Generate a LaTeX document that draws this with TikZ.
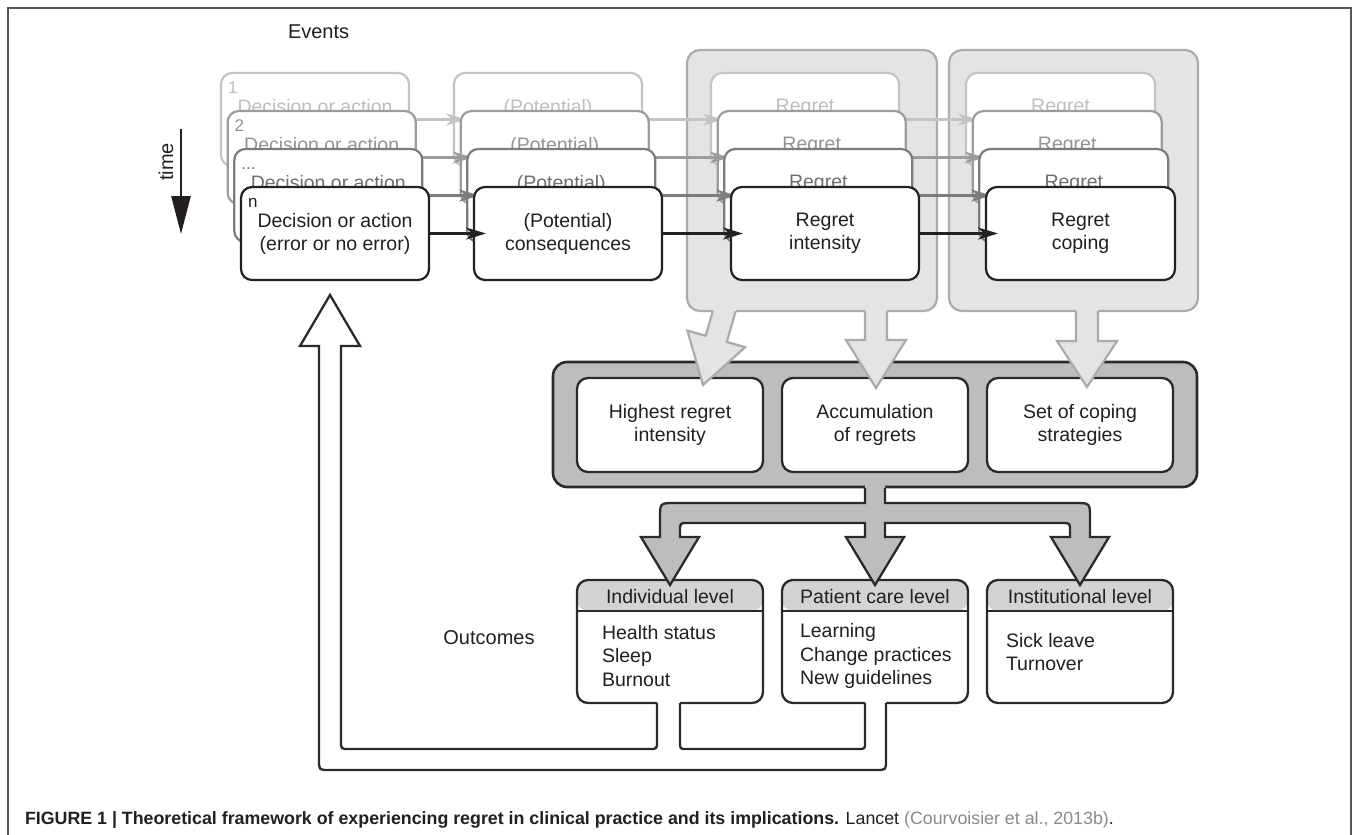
\documentclass[tikz,border=0pt]{standalone}
\usepackage{fontspec}
\setmainfont{Liberation Sans}
\usetikzlibrary{arrows.meta,calc}
\definecolor{ink}{HTML}{231F20}
\definecolor{layA}{HTML}{C4C4C4}
\definecolor{layB}{HTML}{9C9C9C}
\definecolor{layC}{HTML}{7C7C7C}
\definecolor{layD}{HTML}{222222}
\definecolor{txtA}{HTML}{BEBEBE}
\definecolor{txtB}{HTML}{939393}
\definecolor{txtC}{HTML}{6E6E6E}
\definecolor{txtD}{HTML}{231F20}
\definecolor{paleG}{HTML}{E4E4E4}
\definecolor{paleE}{HTML}{ABABAB}
\definecolor{midG}{HTML}{BDBDBF}
\definecolor{hdrG}{HTML}{D3D3D3}
\definecolor{dkE}{HTML}{2A2A2A}
\definecolor{frameG}{HTML}{555555}
\definecolor{citeG}{HTML}{8A8A8A}
\newcommand\mydots{...}
\begin{document}
\begin{tikzpicture}[x=1pt,y=-1pt,
  every node/.style={text=ink, inner sep=0pt, outer sep=0pt},
  mainfont/.style={font=\fontsize{19.5}{23}\selectfont},
  evbox/.style={draw, fill=white, rounded corners=11pt, line width=2.2pt,
    minimum width=188pt, minimum height=93pt, anchor=north west, align=center, mainfont},
  numlbl/.style={anchor=base west, font=\fontsize{17}{17}\selectfont},
  flow/.style={line width=2.3pt, -{Stealth[length=20pt,width=12pt,inset=6pt]}},
  container/.style={fill=paleG, draw=paleE, line width=2.2pt, rounded corners=13pt},
  paleline/.style={draw=paleE, line width=2.2pt, line join=miter},
  barbox/.style={fill=midG, draw=dkE, line width=2.6pt, rounded corners=14pt, anchor=north west,
    minimum width=644pt, minimum height=125pt},
  inbox/.style={fill=white, draw=dkE, line width=2.3pt, rounded corners=11pt, anchor=north west,
    minimum width=186pt, minimum height=94pt, align=center, mainfont},
  obox/.style={fill=white, draw=dkE, line width=2.3pt, rounded corners=11pt, anchor=north west,
    minimum width=186pt, minimum height=123pt,
    path picture={\fill[hdrG] ([yshift=2pt]path picture bounding box.north west) rectangle ([yshift=-31pt]path picture bounding box.north east);}},
  dkline/.style={draw=dkE, line width=2.3pt, line join=miter},
  label/.style={font=\fontsize{20}{24}\selectfont},
  body/.style={anchor=west, align=left, font=\fontsize{19.5}{23.5}\selectfont}
]
\useasboundingbox (0,0) rectangle (1357,835);
\fill[white] (0,0) rectangle (1357,835);
% outer frame
\draw[frameG, line width=1.3pt] (8,845) -- (8,8) -- (1351,8) -- (1351,845);

% labels
\node[label, anchor=west] (events) at (288,32) {Events};
\node[label] (outcomes) at (489,638) {Outcomes};
\node[label, rotate=90] (timelbl) at (166,162) {time};
\coordinate (t0) at (181,129);
\coordinate (t1) at (181,234);
\draw[ink, line width=2.6pt, -{Triangle[length=38pt,width=19pt]}] (t0) -- (t1);

% pale containers
\draw[container] (687,50) rectangle (937,311);
\draw[container] (949,50) rectangle (1198,311);

% stacked event layers
\foreach \L/\dx/\dy/\num/\bc/\tc in {1/0/0/1/layA/txtA, 2/6.7/38/2/layB/txtB, 3/13.3/76/\mydots/layC/txtC, 4/20/114/n/layD/txtD}{
  \node[evbox, draw=\bc, text=\tc] (a\L) at (221+\dx, 73+\dy) {Decision or action\\(error or no error)};
  \node[numlbl, text=\tc] (n\L) at ($(a\L.north west)+(7,20)$) {\num};
  \node[evbox, draw=\bc, text=\tc] (b\L) at (454+\dx, 73+\dy) {(Potential)\\consequences};
  \node[evbox, draw=\bc, text=\tc] (c\L) at (711+\dx, 73+\dy) {Regret\\intensity};
  \node[evbox, draw=\bc, text=\tc, minimum width=189pt] (d\L) at (966+\dx, 73+\dy) {Regret\\coping};
  \draw[flow, draw=\bc] (a\L.east) -- ($(b\L.west)+(12,0)$);
  \draw[flow, draw=\bc] (b\L.east) -- ($(c\L.west)+(12,0)$);
  \draw[flow, draw=\bc] (c\L.east) -- ($(d\L.west)+(12,0)$);
}

% middle bar
\node[barbox] (bar) at (553,362) {};
\node[inbox] (hi) at (577,378) {Highest regret\\intensity};
\node[inbox] (acc) at (782,378) {Accumulation\\of regrets};
\node[inbox] (set) at (987,378) {Set of coping\\strategies};

% pale block arrows from containers
\fill[paleG] (714.8,304) -- (705.7,335.8) -- (687.4,330.6) -- (703,385) -- (745.1,347.2) -- (726.8,341.9) -- (737.7,304) -- cycle;
\draw[paleline] (712.8,311) -- (705.7,335.8) -- (687.4,330.6) -- (703,385) -- (745.1,347.2) -- (726.8,341.9) -- (735.7,311);
\fill[paleG] (865,304) -- (865,340) -- (846,340) -- (876,388) -- (906,340) -- (887,340) -- (887,304) -- cycle;
\draw[paleline] (865,311) -- (865,340) -- (846,340) -- (876,388) -- (906,340) -- (887,340) -- (887,311);
\fill[paleG] (1076,304) -- (1076,341) -- (1057,341) -- (1087,387) -- (1117,341) -- (1098,341) -- (1098,304) -- cycle;
\draw[paleline] (1076,311) -- (1076,341) -- (1057,341) -- (1087,387) -- (1117,341) -- (1098,341) -- (1098,311);

% outcome boxes
\node[obox] (o1) at (577,580) {};
\node[obox] (o2) at (782,580) {};
\node[obox] (o3) at (987,580) {};
\foreach \o in {o1,o2,o3}{
  \draw[draw=dkE, line width=2pt] ([yshift=-31pt]\o.north west) -- ([yshift=-31pt]\o.north east);
}
\node[mainfont] (h1) at ([yshift=-16.5pt]o1.north) {Individual level};
\node[mainfont] (h2) at ([yshift=-16.5pt]o2.north) {Patient care level};
\node[mainfont] (h3) at ([yshift=-16.5pt]o3.north) {Institutional level};
\node[body] (b1) at (602,656) {Health status\\Sleep\\Burnout};
\node[body] (b2) at (800,656) {Learning\\Change practices\\New guidelines};
\node[body] (b3) at (1006,652) {Sick leave\\Turnover};

% branching dark arrow
\fill[midG] (865,483) -- (865,503) -- (675,503) .. controls (660,503) .. (660,518) -- (660,537) -- (641,537) -- (670,585) -- (699,537) -- (680,537) -- (680,531) .. controls (680,523) .. (688,523) -- (865,523) -- (865,537) -- (846,537) -- (875,585) -- (904,537) -- (885,537) -- (885,523) -- (1062,523) .. controls (1070,523) .. (1070,531) -- (1070,537) -- (1051,537) -- (1080,585) -- (1109,537) -- (1090,537) -- (1090,518) .. controls (1090,503) .. (1075,503) -- (885,503) -- (885,483) -- cycle;
\draw[dkline] (865,488) -- (865,503) -- (675,503) .. controls (660,503) .. (660,518) -- (660,537) -- (641,537) -- (670,585) -- (699,537) -- (680,537) -- (680,531) .. controls (680,523) .. (688,523) -- (865,523) -- (865,537) -- (846,537) -- (875,585) -- (904,537) -- (885,537) -- (885,523) -- (1062,523) .. controls (1070,523) .. (1070,531) -- (1070,537) -- (1051,537) -- (1080,585) -- (1109,537) -- (1090,537) -- (1090,518) .. controls (1090,503) .. (1075,503) -- (885,503) -- (885,488);

% feedback white arrow
\fill[white] (657,700) -- (657,749) -- (341,749) -- (341,346) -- (360,346) -- (330,295) -- (300,346) -- (319,346) -- (319,770) -- (886,770) -- (886,700) -- (865,700) -- (865,749) -- (680,749) -- (680,700) -- cycle;
\draw[dkline] (657,703) -- (657,741) .. controls (657,749) .. (649,749) -- (349,749) .. controls (341,749) .. (341,741) -- (341,346) -- (360,346) -- (330,295) -- (300,346) -- (319,346) -- (319,760) .. controls (319,770) .. (329,770) -- (876,770) .. controls (886,770) .. (886,760) -- (886,703);
\draw[dkline] (680,703) -- (680,742) .. controls (680,749) .. (687,749) -- (858,749) .. controls (865,749) .. (865,742) -- (865,703);

% caption
\node[anchor=base west, font=\fontsize{17.8}{20}\selectfont] (cap) at (25,824) {\textbf{FIGURE 1 | Theoretical framework of experiencing regret in clinical practice and its implications.} Lancet {\color{citeG}(Courvoisier et al., 2013b)}.};
\end{tikzpicture}
\end{document}
